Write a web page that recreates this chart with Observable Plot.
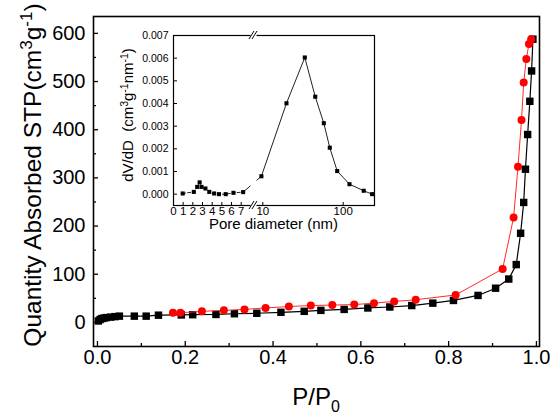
<!DOCTYPE html>
<html><head><meta charset="utf-8">
<script src="https://cdn.jsdelivr.net/npm/d3@7"></script>
<script src="https://cdn.jsdelivr.net/npm/@observablehq/plot@0.6"></script>
<style>
html,body{margin:0;padding:0;background:#fff;}
#wrap{position:relative;width:551px;height:414px;overflow:hidden;}
#wrap svg{position:absolute;left:0;top:0;}
</style></head><body><div id="wrap"></div>
<script>
// Isotherm: adsorption (black squares) and desorption (red circles)
const adsP = [0.002,0.006,0.01,0.015,0.02,0.03,0.04,0.05,0.084,0.111,0.139,0.191,0.217,0.27,0.312,0.363,0.418,0.471,0.509,0.562,0.616,0.666,0.716,0.764,0.811,0.867,0.907,0.937,0.954,0.964,0.971,0.975,0.98,0.985,0.989,0.992];
const adsV = [3,6,8,9,10,11,12,13,13,13,15,15.5,16,16.5,18,19,21,23,25,27,30,32,35,40,45.6,56,71,90,120,185,249,318,390,459,522,588];
const desP = [0.172,0.189,0.238,0.288,0.335,0.383,0.436,0.486,0.535,0.585,0.63,0.676,0.725,0.816,0.923,0.948,0.958,0.966,0.971,0.977,0.983,0.988];
const desV = [20,20,23,25,27,30,33,35,36,37,40,43.5,47,57,111,218,323,420,498,547,578,588];
// Inset: pore size distribution
const poreD = [0.95,2.1,2.45,2.7,2.9,3.3,3.7,4.2,4.7,5.4,6.2,7.2,9.6,19.7,33.3,44.9,57.4,68.1,84.2,119.7,180,229];
const poreV = [0.00003,0.0001,0.00032,0.00052,0.00032,0.00025,0.0001,0.00003,0,0,0.00006,0.00009,0.00079,0.00401,0.00603,0.0043,0.00313,0.00205,0.00102,0.00044,0.00015,0];
// Tick labels
const xTicks = [0,0.2,0.4,0.6,0.8,1.0];
const xMinor = [0.1,0.3,0.5,0.7,0.9];
const yTicks = [0,100,200,300,400,500,600];
const yMinor = [50,150,250,350,450,550];
const insetYTicks = [0,0.001,0.002,0.003,0.004,0.005,0.006,0.007];
const insetLinTicks = [0,1,2,3,4,5,6,7];
const insetLogTicks = [10,100];
const breakAt = 8.27;

const ads = adsP.map((p,i)=>({p, v: adsV[i]}));
const des = desP.map((p,i)=>({p, v: desV[i]}));
const pore = poreD.map((D,i)=>({D, v: poreV[i]}));

const FONT = "Liberation Sans, Arial, sans-serif";
const W = 551, H = 414;
const mL = 93, mR = 12, mT = 16, mB = 68;
const innerW = W - mL - mR, innerH = H - mT - mB;

const main = Plot.plot({
  width: W, height: H,
  marginLeft: mL, marginRight: mR, marginTop: mT, marginBottom: mB,
  style: {fontFamily: FONT, background: "white", color: "#000"},
  x: {domain: [-0.009, 1.007], axis: null},
  y: {domain: [-50, 635], axis: null},
  marks: [
    Plot.tickX(xTicks, {x: d=>d, insetTop: innerH-5, stroke: "#000", strokeWidth: 1.3}),
    Plot.tickX(xMinor, {x: d=>d, insetTop: innerH-3, stroke: "#000", strokeWidth: 1.3}),
    Plot.tickY(yTicks, {y: d=>d, insetRight: innerW-5, stroke: "#000", strokeWidth: 1.3}),
    Plot.tickY(yMinor, {y: d=>d, insetRight: innerW-3, stroke: "#000", strokeWidth: 1.3}),
    Plot.frame({stroke: "#000", strokeWidth: 1.6}),
    Plot.text(xTicks, {x: d=>d, frameAnchor: "bottom", dy: 17, text: d=>d.toFixed(1), fontSize: 20, fill: "#000"}),
    Plot.text(yTicks, {y: d=>d, frameAnchor: "left", dx: -8, textAnchor: "end", text: d=>String(d), fontSize: 20, fill: "#000"}),
    Plot.line(ads, {x: "p", y: "v", stroke: "#000", strokeWidth: 1.2}),
    Plot.dot(ads, {x: "p", y: "v", symbol: "square", r: 4.2, fill: "#000", stroke: "none"}),
    Plot.line(des, {x: "p", y: "v", stroke: "#ff2a2a", strokeWidth: 1}),
    Plot.dot(des, {x: "p", y: "v", symbol: "circle", r: 4, fill: "#ff0000", stroke: "none"})
  ]
});

// Inset broken axis: linear 0..~8, then logarithmic
const linS = d3.scaleLinear([0, 7], [0, 67.7]);
const logS = d3.scaleLog([10, 100], [89.3, 169.7]);
const u = D => D <= breakAt ? linS(D) : logS(D);
const breakU = 80;

const iL = 173, iR = 177, iT = 35, iB = 209;
const iW = W - iL - iR, iH = H - iT - iB;
const leftPts = pore.filter(d => d.D <= breakAt);
const rightPts = [leftPts[leftPts.length-1], ...pore.filter(d => d.D > breakAt)];

const inset = Plot.plot({
  width: W, height: H,
  marginLeft: iL, marginRight: iR, marginTop: iT, marginBottom: iB,
  style: {fontFamily: FONT, background: "transparent", color: "#000", overflow: "visible"},
  x: {domain: [0, 201], axis: null},
  y: {domain: [-0.0005, 0.007], axis: null},
  marks: [
    Plot.tickX([...insetLinTicks, ...insetLogTicks], {x: d=>u(d), insetTop: iH-3, stroke: "#000"}),
    Plot.tickY(insetYTicks, {y: d=>d, insetRight: iW-4, stroke: "#000"}),
    Plot.frame({stroke: "#000", strokeWidth: 1.2}),
    Plot.line(leftPts, {x: d=>u(d.D), y: "v", stroke: "#222", strokeWidth: 1, strokeDasharray: "3,2"}),
    Plot.line(rightPts, {x: d=>u(d.D), y: "v", stroke: "#222", strokeWidth: 1}),
    Plot.dot(pore, {x: d=>u(d.D), y: "v", symbol: "square", r: 2.3, fill: "#000", stroke: "none"}),
    Plot.ruleX([breakU], {x: d=>d, stroke: "white", strokeWidth: 6, insetTop: -3, insetBottom: -3}),
    Plot.text([...insetLinTicks, ...insetLogTicks], {x: d=>u(d), frameAnchor: "bottom", dy: 9, text: d=>String(d), fontSize: 11.5, fill: "#000"}),
    Plot.text(insetYTicks, {y: d=>d, frameAnchor: "left", dx: -5, textAnchor: "end", text: d=>d3.format(".3f")(d), fontSize: 10.5, fill: "#000"})
  ]
});

const wrap = document.getElementById("wrap");
wrap.appendChild(main);
wrap.appendChild(inset);

// Axis titles with super/subscripts
const ms = d3.select(main);
const yt = ms.append("text").attr("transform", "translate(41,175) rotate(-90)")
  .attr("text-anchor", "middle").attr("font-size", 24.5).attr("fill", "#000").attr("font-family", FONT);
yt.append("tspan").text("Quantity Absorbed STP(cm");
yt.append("tspan").attr("dy", -9).attr("font-size", 17).text("3");
yt.append("tspan").attr("dy", 9).text("g");
yt.append("tspan").attr("dy", -9).attr("font-size", 17).text("-1");
yt.append("tspan").attr("dy", 9).text(")");

const xt = ms.append("text").attr("x", 316).attr("y", 405)
  .attr("text-anchor", "middle").attr("font-size", 24).attr("fill", "#000").attr("font-family", FONT);
xt.append("tspan").text("P/P");
xt.append("tspan").attr("dy", 7).attr("font-size", 16).text("0");

const is = d3.select(inset);
const bx = inset.scale("x").apply(breakU);
const by1 = inset.scale("y").apply(0.007), by2 = inset.scale("y").apply(-0.0005);
for (const yy of [by1, by2]) {
  for (const off of [-1.5, 1.5]) {
    is.append("line").attr("x1", bx + off - 2.5).attr("y1", yy + 4).attr("x2", bx + off + 2.5).attr("y2", yy - 4)
      .attr("stroke", "#000").attr("stroke-width", 1);
  }
}
const iyt = is.append("text").attr("transform", "translate(133,115) rotate(-90)")
  .attr("text-anchor", "middle").attr("font-size", 15).attr("fill", "#000").attr("font-family", FONT)
  .style("white-space", "pre");
iyt.append("tspan").text("dV/dD  (cm");
iyt.append("tspan").attr("dy", -5).attr("font-size", 10.5).text("3");
iyt.append("tspan").attr("dy", 5).text("g");
iyt.append("tspan").attr("dy", -5).attr("font-size", 10.5).text("-1");
iyt.append("tspan").attr("dy", 5).text("nm");
iyt.append("tspan").attr("dy", -5).attr("font-size", 10.5).text("-1");
iyt.append("tspan").attr("dy", 5).text(")");
is.append("text").attr("x", 273.5).attr("y", 229).attr("text-anchor", "middle")
  .attr("font-size", 15).attr("fill", "#000").attr("font-family", FONT).text("Pore diameter (nm)");
</script></body></html>
